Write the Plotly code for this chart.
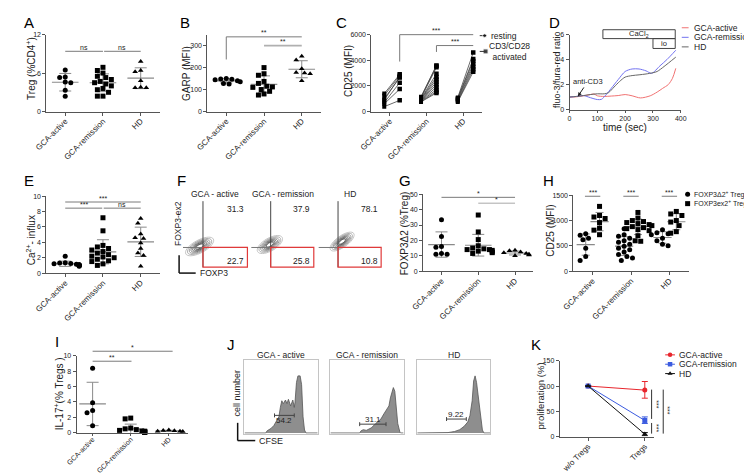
import numpy as np
import plotly.graph_objects as go

W, H = 752, 474
FONT = "Liberation Sans, Arial, sans-serif"
AX = "#555555"
MEANC = "#8a8a8a"
SIGC = "#7a7a7a"
TXT = "#222222"

CATS = ["GCA-active", "GCA-remission", "HD"]

# ---------------- data ----------------
# A  Treg (%CD4+)
treg_active = [6.5, 5.4, 5.3, 4.6, 4.5, 3.3, 2.4]
treg_remission = [6.9, 6.4, 6.0, 5.5, 5.3, 5.0, 4.7, 4.5, 4.3, 4.0, 3.6, 3.4, 3.0, 2.4, 2.4]
treg_hd = [7.8, 6.4, 6.2, 4.8, 3.8, 3.7, 3.7]
# B  GARP (MFI)
garp_active = [150, 148, 147, 145, 140, 135, 128, 125]
garp_remission = [200, 172, 165, 137, 128, 115, 112, 110, 100, 92, 80, 75]
garp_hd = [252, 235, 195, 178, 175, 172, 140]
# C  CD25 (MFI) resting vs CD3/CD28 activated (paired)
cd25_rest_active = [1400, 1250, 1000, 900, 700, 600, 380]
cd25_act_active = [2900, 2800, 2650, 2700, 2250, 1750, 870]
cd25_rest_remission = [1150, 1100, 1050, 1000, 980, 950, 900, 880, 850, 820, 780, 750]
cd25_act_remission = [3600, 3550, 3450, 2950, 2700, 2500, 2300, 2100, 1900, 1700, 1550, 1450]
cd25_rest_hd = [1100, 1050, 1000, 950, 880, 800, 750]
cd25_act_hd = [4600, 4100, 3950, 3700, 3500, 3300, 3100]
# D  calcium flux kinetics
d_t_active = [0, 25, 50, 75, 88, 100, 125, 150, 175, 200, 225, 255, 290, 315, 335, 355, 370, 382]
d_active = [1.0, 1.02, 1.1, 1.2, 1.25, 1.1, 1.05, 1.08, 1.12, 1.2, 1.1, 0.93, 1.1, 1.4, 1.7, 2.0, 2.5, 3.3]
d_t_remission = [0, 25, 50, 75, 100, 115, 130, 150, 175, 200, 225, 250, 275, 295, 325, 350, 382]
d_remission = [1.0, 1.05, 1.12, 0.95, 0.8, 0.82, 1.15, 1.7, 2.4, 3.05, 3.25, 3.25, 3.1, 2.9, 3.5, 4.0, 4.75]
d_t_hd = [0, 25, 50, 75, 100, 125, 140, 160, 180, 200, 225, 250, 275, 300, 315, 340, 382]
d_hd = [1.0, 1.05, 1.12, 1.2, 1.26, 1.26, 1.35, 1.8, 2.25, 2.6, 2.72, 2.78, 2.85, 2.95, 3.05, 3.45, 4.2]
# E  Ca2+ influx
ca_active = [2.2, 1.35, 1.3, 1.25, 1.2, 1.15, 1.1, 1.1, 1.05, 1.0, 0.95, 0.9]
ca_remission = [7.2, 5.5, 3.6, 3.4, 3.2, 3.0, 2.8, 2.6, 2.4, 2.2, 2.1, 2.0, 1.8, 1.6, 1.5, 1.2, 1.0]
ca_hd = [7.1, 6.5, 5.1, 4.6, 4.5, 3.9, 3.2, 2.6, 2.3, 0.9]
# F  flow quadrant frequencies
f_titles = ["GCA - active", "GCA - remission", "HD"]
f_upper = ["31.3", "37.9", "78.1"]
f_lower = ["22.7", "25.8", "10.8"]
# G  FOXP3Δ2 (%Treg)
g_active = [33.5, 22.5, 16, 15.5, 11.5, 11, 11]
g_remission = [36.5, 25.5, 20.5, 16.5, 15, 14.5, 14, 14, 13.5, 13, 12.5, 12, 11.5]
g_hd = [13.5, 13.2, 12.5, 12, 11.5, 11, 10.5, 10]
# H  CD25 (MFI) FOXP3Δ2+ vs FOXP3ex2+ Tregs
h_d2_active = [740, 710, 650, 620, 450, 290, 210]
h_ex2_active = [1280, 1100, 1070, 1040, 960, 850, 810, 720]
h_d2_remission = [840, 720, 690, 650, 600, 570, 530, 490, 450, 420, 380, 330, 290, 260, 210]
h_ex2_remission = [1160, 1050, 1000, 980, 960, 940, 920, 900, 880, 860, 840, 820, 800, 700, 600, 590]
h_d2_hd = [820, 760, 740, 720, 650, 600, 530, 500]
h_ex2_hd = [1180, 1130, 1100, 1000, 970, 900, 780, 750]
# I  IL-17+ (% Tregs)
il17_active = [8.4, 3.9, 2.9, 2.6, 0.9]
il17_remission = [1.9, 1.8, 0.6, 0.5, 0.4, 0.3, 0.2, 0.2, 0.1, 0.1, 0.1, 0.05, 0.05]
il17_hd = [0.35, 0.3, 0.25, 0.2, 0.2, 0.15]
# J  CFSE histograms (channel, relative count)
j_titles = ["GCA - active", "GCA - remission", "HD"]
j_x_active = [0, 29, 31, 36, 40, 44, 47, 49, 51, 53, 56, 58, 60, 63, 66, 68, 69, 71, 73, 76, 78, 80, 82, 84, 100]
j_y_active = [0, 0, .03, .06, .10, .17, .22, .35, .44, .40, .45, .40, .46, .37, .45, .35, .42, .69, .78, .78, .66, .22, .04, 0, 0]
j_x_remission = [0, 40, 42, 45, 49, 56, 62, 69, 73, 77, 80, 82, 86, 88, 90, 92, 95, 96, 100]
j_y_remission = [0, 0, .03, .045, .035, .07, .13, .19, .26, .33, .37, .48, .62, .57, .35, .13, .01, 0, 0]
j_x_hd = [0, 36, 42, 51, 58, 64, 69, 72, 75, 77, 79, 81, 84, 87, 89, 91, 100]
j_y_hd = [0, 0, .005, .02, .045, .09, .15, .24, .44, .71, .78, .69, .44, .17, .04, 0, 0]
j_gate_lo = [41, 40, 40]
j_gate_hi = [68, 76, 67]
j_gate_h = [.24, .12, .19]
j_gate_label = ["54.2", "31.1", "9.22"]
# K  proliferation (%)
k_cats = ["w/o Tregs", "Tregs"]
k_active = [100, 92]
k_active_err_p = [0, 17]
k_active_err_m = [0, 16]
k_remission = [100, 32]
k_remission_err_p = [0, 7]
k_remission_err_m = [0, 6]
k_hd = [100, 5]
k_hd_err_p = [0, 3]
k_hd_err_m = [0, 3]

# ---------------- layout geometry (pixels) ----------------
PANELS = {
    'A': dict(i=1, l=27, r=143, t=23, b=101, xr=[-0.5, 2.5], yr=[0, 12]),
    'B': dict(i=2, l=192, r=308, t=23, b=101, xr=[-0.5, 2.5], yr=[0, 350]),
    'C': dict(i=3, l=360, r=473, t=23, b=101, xr=[-0.5, 2.5], yr=[0, 6000]),
    'D': dict(i=4, l=563, r=677, t=23, b=99, xr=[0, 400], yr=[0, 6]),
    'E': dict(i=5, l=27, r=143, t=187, b=265, xr=[-0.5, 2.5], yr=[0, 10]),
    'F1': dict(i=6, l=167, r=233, t=192, b=259, xr=[0, 1], yr=[0, 1]),
    'F2': dict(i=7, l=237, r=301, t=192, b=259, xr=[0, 1], yr=[0, 1]),
    'F3': dict(i=8, l=306, r=370, t=192, b=259, xr=[0, 1], yr=[0, 1]),
    'G': dict(i=9, l=413, r=526, t=185, b=263, xr=[-0.5, 2.5], yr=[0, 50]),
    'H': dict(i=10, l=567, r=685, t=186, b=263, xr=[-0.5, 2.5], yr=[0, 1500]),
    'I': dict(i=11, l=58, r=172, t=349, b=427, xr=[-0.42, 2.5], yr=[0, 10]),
    'J1': dict(i=12, l=230, r=305, t=353, b=428, xr=[0, 100], yr=[-0.01, 1.0]),
    'J2': dict(i=13, l=318, r=393, t=353, b=428, xr=[0, 100], yr=[-0.01, 1.0]),
    'J3': dict(i=14, l=407, r=482, t=353, b=428, xr=[0, 100], yr=[-0.01, 1.0]),
    'K': dict(i=15, l=553, r=650, t=354, b=431, xr=[-0.5, 1.17], yr=[0, 150]),
    'OV': dict(i=16, l=0, r=W, t=0, b=H, xr=[0, W], yr=[H, 0]),
}


def ax(name):
    i = PANELS[name]['i']
    return ('x' if i == 1 else f'x{i}'), ('y' if i == 1 else f'y{i}')


def PX(name, v):
    p = PANELS[name]
    return p['l'] + (v - p['xr'][0]) / (p['xr'][1] - p['xr'][0]) * (p['r'] - p['l'])


def PY(name, v):
    p = PANELS[name]
    return p['b'] - (v - p['yr'][0]) / (p['yr'][1] - p['yr'][0]) * (p['b'] - p['t'])


fig = go.Figure()
layout = dict(width=W, height=H, margin=dict(l=0, r=0, t=0, b=0), paper_bgcolor='white',
              plot_bgcolor='rgba(0,0,0,0)', font=dict(family=FONT, size=8, color=TXT), showlegend=False)
shapes, annots = [], []


def make_axes(name, kind='std', xtick=None, xtext=None, ytick=None, xangle=-45, yfmt=None,
              xfont=8, xticklen=3, standoff=0):
    p = PANELS[name]
    i = p['i']
    xk = 'xaxis' if i == 1 else f'xaxis{i}'
    yk = 'yaxis' if i == 1 else f'yaxis{i}'
    xa, ya = ax(name)
    xd = [p['l'] / W, p['r'] / W]
    yd = [1 - p['b'] / H, 1 - p['t'] / H]
    c = dict(showgrid=False, zeroline=False, fixedrange=True)
    if kind == 'hidden':
        layout[xk] = dict(domain=xd, range=p['xr'], anchor=ya, visible=False, **c)
        layout[yk] = dict(domain=yd, range=p['yr'], anchor=xa, visible=False, **c)
    elif kind == 'box':
        b = dict(showline=True, mirror=True, linecolor='#c4c4c4', linewidth=1, ticks='', showticklabels=False,
                 tickvals=[])
        layout[xk] = dict(domain=xd, range=p['xr'], anchor=ya, **b, **c)
        layout[yk] = dict(domain=yd, range=p['yr'], anchor=xa, **b, **c)
    else:
        t = dict(showline=True, linecolor=AX, linewidth=1, ticks='outside', tickwidth=1, tickcolor=AX)
        layout[xk] = dict(domain=xd, range=p['xr'], anchor=ya, tickvals=xtick, ticktext=xtext, tickangle=xangle,
                          ticklen=xticklen, tickfont=dict(size=xfont, color=TXT), ticklabelstandoff=standoff,
                          **t, **c)
        yd_ = dict(domain=yd, range=p['yr'], anchor=xa, tickvals=ytick, ticklen=3,
                   tickfont=dict(size=7, color=TXT), **t, **c)
        if yfmt:
            yd_['tickformat'] = yfmt
        layout[yk] = yd_


def txt(xp, yp, s, size=8, xanchor='center', yanchor='middle', angle=0, color=TXT, **kw):
    annots.append(dict(x=xp / W, y=1 - yp / H, xref='paper', yref='paper', text=s, showarrow=False,
                       font=dict(size=size, color=color, family=FONT), xanchor=xanchor, yanchor=yanchor,
                       textangle=angle, **kw))


def seg(x0, y0, x1, y1, color=SIGC, width=1):
    shapes.append(dict(type='line', xref='paper', yref='paper', x0=x0 / W, y0=1 - y0 / H, x1=x1 / W,
                       y1=1 - y1 / H, layer='above', line=dict(color=color, width=width)))


def rect(x0, y0, x1, y1, color, width=1, fill='rgba(0,0,0,0)'):
    shapes.append(dict(type='rect', xref='paper', yref='paper', x0=x0 / W, y0=1 - y1 / H, x1=x1 / W,
                       y1=1 - y0 / H, layer='above', line=dict(color=color, width=width), fillcolor=fill))


def bracket(name, a, b, yv, label, drop=None, color=SIGC, width=1, lsize=7):
    x0, x1, y = PX(name, a), PX(name, b), PY(name, yv)
    seg(x0, y, x1, y, color, width)
    if drop is not None:
        seg(x0, y, x0, PY(name, drop), color, width)
    txt((x0 + x1) / 2, y - 4, label, size=lsize, color='#222222')


def swarm(vals, name, d=5.2):
    p = PANELS[name]
    ypx = (p['b'] - p['t']) / (p['yr'][1] - p['yr'][0])
    xpx = (p['r'] - p['l']) / (p['xr'][1] - p['xr'][0])
    v = np.asarray(vals, float)
    order = np.argsort(-v)
    placed = []
    offs = np.zeros(len(v))
    for idx in order:
        y = v[idx] * ypx
        xo = 0.0
        for cnd in [0, -1, 1, -2, 2, -3, 3, -4, 4, -5, 5]:
            xo = cnd * d * 0.55
            if all((xo - a) ** 2 + (y - b) ** 2 >= d * d for a, b in placed):
                break
        offs[idx] = xo / xpx
        placed.append((xo, y))
    return offs


SYMS = ['circle', 'square', 'triangle-up']


def mean_sd(name, xc, vals, mwidth=19, cap=6):
    xa, ya = ax(name)
    m = float(np.mean(vals))
    s = float(np.std(vals, ddof=1))
    fig.add_trace(go.Scatter(x=[xc], y=[m], mode='markers', xaxis=xa, yaxis=ya, hoverinfo='skip',
                             marker=dict(symbol='line-ew', size=mwidth, color=MEANC, line=dict(width=1.2, color=MEANC)),
                             error_y=dict(type='data', array=[s], width=cap, thickness=1, color=MEANC)))


def dots(name, xc, vals, sym, size=5):
    xa, ya = ax(name)
    offs = swarm(vals, name)
    fig.add_trace(go.Scatter(x=list(xc + offs), y=vals, mode='markers', xaxis=xa, yaxis=ya, cliponaxis=False,
                             marker=dict(symbol=sym, size=size, color='black', line=dict(width=0))))


def dotplot(name, groups):
    for k, vals in enumerate(groups):
        mean_sd(name, k, vals)
        dots(name, k, vals, SYMS[k])


# ---------------- A ----------------
make_axes('A', xtick=[0, 1, 2], xtext=CATS, ytick=[0, 6, 12], standoff=-2)
dotplot('A', [treg_active, treg_remission, treg_hd])
bracket('A', 0, 1, 9.4, 'ns')
bracket('A', 1.03, 2, 9.4, 'ns')

# ---------------- B ----------------
make_axes('B', xtick=[0, 1, 2], xtext=CATS, ytick=[0, 100, 200, 300], standoff=-2)
dotplot('B', [garp_active, garp_remission, garp_hd])
bracket('B', 0, 2, 340, '**', drop=237)
bracket('B', 1, 2, 300, '**', color='#b0b0b0', width=1.8)

# ---------------- C ----------------
make_axes('C', xtick=[0, 1, 2], xtext=CATS, ytick=[0, 2000, 4000, 6000], yfmt='d', standoff=-2)
xa, ya = ax('C')
for k, (rest, act) in enumerate([(cd25_rest_active, cd25_act_active),
                                 (cd25_rest_remission, cd25_act_remission),
                                 (cd25_rest_hd, cd25_act_hd)]):
    xs, ys = [], []
    for r_, a_ in zip(rest, act):
        xs += [k - 0.15, k + 0.27, None]
        ys += [r_, a_, None]
    fig.add_trace(go.Scatter(x=xs, y=ys, mode='lines', xaxis=xa, yaxis=ya, line=dict(color='#444', width=0.8)))
    fig.add_trace(go.Scatter(x=[k - 0.15] * len(rest), y=rest, mode='markers', xaxis=xa, yaxis=ya,
                             marker=dict(symbol='square', size=4, color='black')))
    fig.add_trace(go.Scatter(x=[k + 0.27] * len(act), y=act, mode='markers', xaxis=xa, yaxis=ya,
                             marker=dict(symbol='square', size=4.5, color='black')))
bracket('C', 0.27, 2.27, 6000, '***', drop=3900)
bracket('C', 1.27, 2.27, 5150, '***', drop=4650)

# ---------------- D ----------------
make_axes('D', xtick=[0, 100, 200, 300, 400], xtext=['0', '100', '200', '300', '400'], ytick=[0, 2, 4, 6],
          xangle=0, xfont=7, xticklen=2)
xa, ya = ax('D')
D_COL = ['#f07272', '#7272f0', '#666666']
for tt, vv, col in [(d_t_active, d_active, D_COL[0]), (d_t_remission, d_remission, D_COL[1]), (d_t_hd, d_hd, D_COL[2])]:
    fig.add_trace(go.Scatter(x=tt, y=vv, mode='lines', xaxis=xa, yaxis=ya, line=dict(color=col, width=1, shape='spline', smoothing=0.8)))
rect(PX('D', 120), 18, PX('D', 380), 27, '#444', 1)
txt((PX('D', 120) + PX('D', 380)) / 2, 22.5, 'CaCl<sub>2</sub>', size=7.5)
rect(PX('D', 300), 27, PX('D', 380), 37, '#444', 1)
txt((PX('D', 300) + PX('D', 380)) / 2, 32, 'io', size=7.5)
annots.append(dict(x=PX('D', 30) / W, y=1 - PY('D', 1.05) / H, xref='paper', yref='paper', text='anti-CD3',
                   showarrow=True, arrowhead=2, arrowsize=0.8, arrowwidth=1, arrowcolor='#222', ax=10, ay=-15,
                   font=dict(size=7.5, color=TXT, family=FONT)))
txt(620, 117, 'time (sec)', size=10)
txt(550, 58, 'fluo-3/fura-red ratio', size=9, angle=-90)
for j, (lab, col) in enumerate(zip(['GCA-active', 'GCA-remission', 'HD'], D_COL)):
    yy = 16 + j * 9.7
    seg(678, yy, 685, yy, col, 1)
    txt(688, yy, lab, size=8.5, xanchor='left')

# ---------------- E ----------------
make_axes('E', xtick=[0, 1, 2], xtext=CATS, ytick=[0, 2, 4, 6, 8, 10], standoff=-2)
dotplot('E', [ca_active, ca_remission, ca_hd])
bracket('E', 0, 2, 9.25, '***')
bracket('E', 0, 0.98, 8.45, '***')
bracket('E', 1.02, 2, 8.45, 'ns')

# ---------------- F ----------------
def ellipse_path(cx, cy, a, b, ang, n=36):
    th = np.linspace(0, 2 * np.pi, n, endpoint=False)
    ca, sa = np.cos(np.radians(ang)), np.sin(np.radians(ang))
    xs = cx + a * np.cos(th) * ca - b * np.sin(th) * sa
    ys = cy - (a * np.cos(th) * sa + b * np.sin(th) * ca)
    pts = [f"{x / W:.5f},{1 - y / H:.5f}" for x, y in zip(xs, ys)]
    return "M" + " L".join(pts) + " Z"


F_BLOB = [(184, 238, 16, 6.5, 28), (256, 236, 14.5, 6.5, 30), (330, 233, 14.5, 5.8, 35)]
RING_S = [1.0, 0.86, 0.73, 0.61, 0.5, 0.39, 0.28]
RING_C = ['#bdbdbd', '#a5a5a5', '#8e8e8e', '#767676', '#5e5e5e', '#464646', '#333333']
for k, nm in enumerate(['F1', 'F2', 'F3']):
    make_axes(nm, kind='box')
    p = PANELS[nm]
    gx = p['l'] + 0.31 * (p['r'] - p['l'])
    hy = 239
    cx, cy, a, b, an = F_BLOB[k]
    for s, c in zip(RING_S, RING_C):
        shapes.append(dict(type='path', xref='paper', yref='paper', path=ellipse_path(cx, cy, a * s, b * s, an),
                           line=dict(color=c, width=0.9), fillcolor='rgba(0,0,0,0)'))
    seg(gx, p['t'], gx, p['b'], '#444', 1)
    seg(p['l'], hy, p['r'], hy, '#777', 1)
    rect(gx, hy, p['r'], p['b'], '#e03a3a', 1.2)
    txt(p['r'] - 1.5, 200, f_upper[k], size=8.5, xanchor='right')
    txt(p['r'] - 1.5, 253, f_lower[k], size=8.5, xanchor='right')
    txt((p['l'] + p['r']) / 2, 185, f_titles[k], size=8.5)
txt(162, 215, 'FOXP3-ex2', size=8.5, angle=-90)
seg(163, 247, 163, 265, '#111', 1.5)
seg(163, 265, 180, 265, '#111', 1.5)
txt(182, 265, 'FOXP3', size=8.5, xanchor='left')

# ---------------- G ----------------
make_axes('G', xtick=[0, 1, 2], xtext=CATS, ytick=[0, 10, 20, 30, 40, 50], standoff=-2)
dotplot('G', [g_active, g_remission, g_hd])
bracket('G', 0, 2, 48, '*')
bracket('G', 1, 2, 44.2, '*', color='#a8a8a8')

# ---------------- H ----------------
make_axes('H', xtick=[0, 1, 2], xtext=CATS, ytick=[0, 500, 1000, 1500], yfmt='d', standoff=-2)
for k, (d2, ex2) in enumerate([(h_d2_active, h_ex2_active), (h_d2_remission, h_ex2_remission), (h_d2_hd, h_ex2_hd)]):
    mean_sd('H', k - 0.18, d2, mwidth=13, cap=4)
    dots('H', k - 0.18, d2, 'circle', 5)
    mean_sd('H', k + 0.18, ex2, mwidth=13, cap=4)
    dots('H', k + 0.18, ex2, 'square', 5)
    bracket('H', k - 0.2, k + 0.2, 1480, '***')
txt(688, 185, 'FOXP3Δ2<sup>+</sup> Tregs', size=7, xanchor='left')
txt(688, 194.5, 'FOXP3ex2<sup>+</sup> Tregs', size=7, xanchor='left')

# ---------------- I ----------------
make_axes('I', xtick=[0, 1, 2], xtext=CATS, ytick=[0, 2, 4, 6, 8, 10], xfont=7, xticklen=2, standoff=-3)
dotplot('I', [il17_active, il17_remission, il17_hd])
bracket('I', 0, 2.1, 10.6, '*')
bracket('I', 0, 1.02, 9.3, '**')

# ---------------- J ----------------
for k, (nm, hx, hy_) in enumerate([('J1', j_x_active, j_y_active), ('J2', j_x_remission, j_y_remission),
                                    ('J3', j_x_hd, j_y_hd)]):
    make_axes(nm, kind='box')
    xa, ya = ax(nm)
    fig.add_trace(go.Scatter(x=hx, y=hy_, mode='lines', fill='tozeroy', fillcolor='#8e8e8e', xaxis=xa, yaxis=ya,
                             line=dict(color='#555', width=0.8)))
    g0, g1, gh = j_gate_lo[k], j_gate_hi[k], j_gate_h[k]
    x0, x1, y0 = PX(nm, g0), PX(nm, g1), PY(nm, gh)
    seg(x0, y0, x1, y0, '#444', 1)
    seg(x0, y0 - 2, x0, y0 + 2, '#444', 1)
    seg(x1, y0 - 2, x1, y0 + 2, '#444', 1)
    ly = y0 + 5.5 if k == 0 else y0 - 5
    txt((x0 + x1) / 2, ly, j_gate_label[k], size=8)
    p = PANELS[nm]
    txt((p['l'] + p['r']) / 2, 348, j_titles[k], size=8.5)
txt(222.5, 387, 'cell number', size=9, angle=-90)
seg(223, 417, 223, 435, '#111', 1.5)
seg(223, 435, 241, 435, '#111', 1.5)
txt(243, 435, 'CFSE', size=9, xanchor='left')

# ---------------- K ----------------
make_axes('K', xtick=[0, 1], xtext=k_cats, ytick=[0, 50, 100, 150], standoff=-2)
xa, ya = ax('K')
K_COL = ['#e8262d', '#3b5be0', '#111111']
for vals, ep, em, col, sym in [(k_active, k_active_err_p, k_active_err_m, K_COL[0], 'circle'),
                               (k_remission, k_remission_err_p, k_remission_err_m, K_COL[1], 'square'),
                               (k_hd, k_hd_err_p, k_hd_err_m, K_COL[2], 'triangle-up')]:
    fig.add_trace(go.Scatter(x=[0, 1], y=vals, mode='lines+markers', xaxis=xa, yaxis=ya, cliponaxis=False,
                             line=dict(color=col, width=1), marker=dict(symbol=sym, size=5, color=col),
                             error_y=dict(type='data', array=ep, arrayminus=em, width=3, thickness=1, color=col)))
kx1, kx2 = PX('K', 1.12), 659
seg(kx1, PY('K', 93), kx1, PY('K', 35), '#333', 1)
seg(kx1, PY('K', 27), kx1, PY('K', 6), '#333', 1)
seg(kx2, PY('K', 93), kx2, PY('K', 6), '#333', 1)
txt(kx1 + 5, PY('K', 63), '***', size=7, angle=90)
txt(kx1 + 5, PY('K', 16), '***', size=7, angle=90)
txt(kx2 + 5, PY('K', 52), '***', size=7, angle=90)
txt(533, 390, 'proliferation (%)', size=9.5, angle=-90)

# ---------------- legends (glyphs in pixel overlay) ----------------
make_axes('OV', kind='hidden')
xa, ya = ax('OV')
# C legend
fig.add_trace(go.Scatter(x=[471, 478], y=[24, 24], mode='lines', xaxis=xa, yaxis=ya, line=dict(color='#333', width=1)))
fig.add_trace(go.Scatter(x=[476, 477], y=[24, 40], mode='markers', xaxis=xa, yaxis=ya,
                         marker=dict(symbol=['circle', 'square'], size=[4, 5], color='black')))
fig.add_trace(go.Scatter(x=[471, 478], y=[40, 40], mode='lines', xaxis=xa, yaxis=ya, line=dict(color='#333', width=1)))
txt(480, 24, 'resting', size=8.5, xanchor='left')
txt(501, 40, 'CD3/CD28<br>activated', size=8.5, align='center')
# H legend
fig.add_trace(go.Scatter(x=[684, 684], y=[185, 194.5], mode='markers', xaxis=xa, yaxis=ya,
                         marker=dict(symbol=['circle', 'square'], size=5, color='black')))
# K legend
for j, (lab, col, sym) in enumerate(zip(['GCA-active', 'GCA-remission', 'HD'], K_COL, ['circle', 'square', 'triangle-up'])):
    yy = 348 + j * 9.5
    fig.add_trace(go.Scatter(x=[661, 671], y=[yy, yy], mode='lines', xaxis=xa, yaxis=ya, line=dict(color=col, width=1)))
    fig.add_trace(go.Scatter(x=[666], y=[yy], mode='markers', xaxis=xa, yaxis=ya, marker=dict(symbol=sym, size=4.5, color=col)))
    txt(673, yy, lab, size=8.5, xanchor='left')

# ---------------- y-axis titles & panel letters ----------------
txt(11, 57, 'Treg (%CD4<sup>+</sup>)', size=10, angle=-90)
txt(170, 62, 'GARP (MFI)', size=10, angle=-90)
txt(336, 60, 'CD25 (MFI)', size=10, angle=-90)
txt(11, 232, 'Ca<sup>2+</sup>- influx', size=10, angle=-90)
txt(394, 225, 'FOXP3Δ2 (%Treg)', size=10, angle=-90)
txt(544, 222, 'CD25 (MFI)', size=10, angle=-90)
txt(40, 388, 'IL-17<sup>+</sup>(% Tregs )', size=10, angle=-90)

for L, x, y in [('A', 2, 0), ('B', 162, 0), ('C', 322, 0), ('D', 540, 0), ('E', 2, 160), ('F', 159, 160),
                ('G', 386, 160), ('H', 534, 160), ('I', 34, 324), ('J', 210, 327), ('K', 521, 327)]:
    txt(x, y, L, size=15, xanchor='left', yanchor='top', color='black')

layout['shapes'] = shapes
layout['annotations'] = annots
fig.update_layout(**layout)
fig.write_html("out.html")
